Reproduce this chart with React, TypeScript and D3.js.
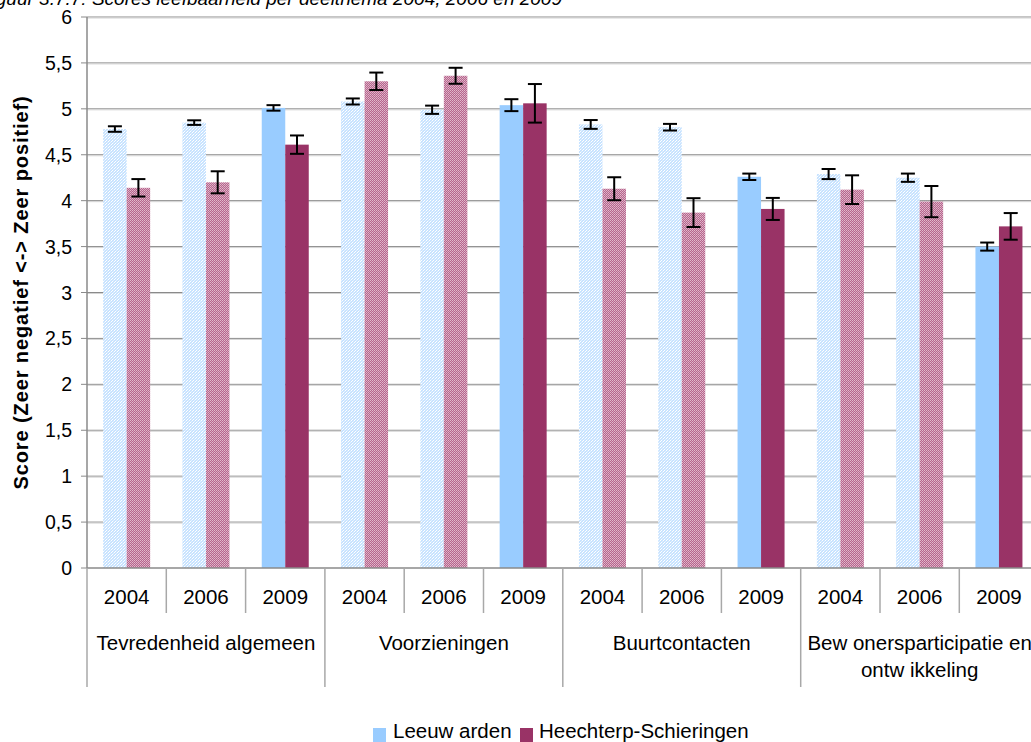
import React from "react";
import * as d3 from "d3";

const groups = ["Tevredenheid algemeen", "Voorzieningen", "Buurtcontacten", "Bew onersparticipatie en|ontw ikkeling"];
const years = ["2004", "2006", "2009"];
const seriesNames = ["Leeuw arden", "Heechterp-Schieringen"];
const leeuwarden = [4.78, 4.85, 5.01, 5.08, 4.99, 5.04, 4.83, 4.80, 4.26, 4.29, 4.25, 3.50];
const leeuwardenErr = [0.03, 0.025, 0.03, 0.033, 0.045, 0.065, 0.048, 0.036, 0.035, 0.055, 0.045, 0.044];
const heechterp = [4.14, 4.20, 4.61, 5.30, 5.36, 5.06, 4.13, 3.87, 3.91, 4.12, 3.99, 3.72];
const heechterpErr = [0.095, 0.12, 0.10, 0.095, 0.087, 0.21, 0.125, 0.157, 0.12, 0.156, 0.17, 0.145];
const yTicks = [0, 0.5, 1, 1.5, 2, 2.5, 3, 3.5, 4, 4.5, 5, 5.5, 6];
const title = "Figuur 3.7.7: Scores leefbaarheid per deelthema 2004, 2006 en 2009";
const yTitle = "Score (Zeer negatief <-> Zeer positief)";

const W = 1031, H = 742;
const left = 87, top = 17, bottom = 568;
const catW = 79.3;
const FONT = "'Liberation Sans', Arial, sans-serif";

export default function App() {
  const cats = groups.flatMap((g, gi) => years.map((y) => `${gi}-${y}`));
  const x = d3.scaleBand().domain(cats).range([left, left + catW * cats.length]).padding(0);
  const inner = d3.scaleBand().domain(["L", "H"]).range([(catW - 47) / 2, (catW + 47) / 2]).padding(0);
  const y = d3.scaleLinear().domain([0, 6]).range([bottom, top]);
  const fmt = (v: number) => String(v).replace(".", ",");
  const series = [
    { key: "L", vals: leeuwarden, errs: leeuwardenErr, solid: "#99CCFF", pat: "url(#patL)" },
    { key: "H", vals: heechterp, errs: heechterpErr, solid: "#993366", pat: "url(#patH)" },
  ];
  const right = left + catW * cats.length;
  return (
    <svg width={W} height={H} style={{ position: "absolute", left: 0, top: 0, background: "#fff" }} fontFamily={FONT}>
      <defs>
        <pattern id="patL" width="3" height="3" patternUnits="userSpaceOnUse">
          <rect width="3" height="3" fill="#c8e3ff" />
          <rect x="0" y="0" width="1" height="1" fill="#ffffff" />
          <rect x="2" y="1" width="1" height="1" fill="#e6f2ff" />
          <rect x="1" y="2" width="1" height="1" fill="#ffffff" />
        </pattern>
        <pattern id="patH" width="2" height="2" patternUnits="userSpaceOnUse">
          <rect width="2" height="2" fill="#b5668d" />
          <rect x="0" y="0" width="1" height="1" fill="#e3b8cc" />
          <rect x="1" y="1" width="1" height="1" fill="#d9a5be" />
        </pattern>
      </defs>
      <rect width={W} height={H} fill="#fff" />
      <text x={562} y={5} textAnchor="end" fontStyle="italic" fontSize={19} fill="#000">{title}</text>
      {/* gridlines */}
      {yTicks.filter((t) => t > 0).map((t) => (
        <g key={t}>
          <line x1={left} x2={right} y1={y(t)} y2={y(t)} stroke="#8a8a8a" strokeWidth={1} />
          <line x1={left} x2={right} y1={y(t) + 1} y2={y(t) + 1} stroke="#d4d4d4" strokeWidth={1} />
        </g>
      ))}
      {/* bars */}
      {cats.map((c, i) => {
        const yr = years[i % 3];
        return series.map((s) => {
          const bx = (x(c) as number) + (inner(s.key) as number);
          const bw = inner.bandwidth();
          return (
            <rect key={c + s.key} x={bx} y={y(s.vals[i])} width={bw} height={bottom - y(s.vals[i])}
              fill={yr === "2009" ? s.solid : s.pat} />
          );
        });
      })}
      {/* error bars */}
      {cats.map((c, i) =>
        series.map((s) => {
          const cx = (x(c) as number) + (inner(s.key) as number) + inner.bandwidth() / 2;
          const y1 = y(s.vals[i] + s.errs[i]);
          const y2 = y(s.vals[i] - s.errs[i]);
          return (
            <g key={"e" + c + s.key} stroke="#000" strokeWidth={2}>
              <line x1={cx} x2={cx} y1={y1} y2={y2} />
              <line x1={cx - 7} x2={cx + 7} y1={y1} y2={y1} />
              <line x1={cx - 7} x2={cx + 7} y1={y2} y2={y2} />
            </g>
          );
        })
      )}
      {/* y axis */}
      <line x1={left} x2={left} y1={top} y2={bottom} stroke="#8a8a8a" strokeWidth={1.5} />
      {yTicks.map((t) => (
        <g key={"t" + t}>
          <line x1={left - 6} x2={left} y1={y(t)} y2={y(t)} stroke="#8a8a8a" strokeWidth={1} />
          <text x={left - 15} y={y(t)} dy="0.36em" textAnchor="end" fontSize={19.5} fill="#000">{fmt(t)}</text>
        </g>
      ))}
      <text transform={`translate(28,${(top + bottom) / 2}) rotate(-90)`} textAnchor="middle" fontWeight="bold" fontSize={20} letterSpacing={0.9} fill="#000">{yTitle}</text>
      {/* x axis */}
      <line x1={left} x2={right} y1={bottom} y2={bottom} stroke="#8a8a8a" strokeWidth={1.5} />
      {cats.map((c, i) => {
        const xl = x(c) as number;
        const isGroupStart = i % 3 === 0;
        return (
          <g key={"x" + c}>
            <line x1={xl} x2={xl} y1={bottom} y2={isGroupStart ? 687 : 613} stroke="#a8a8a8" strokeWidth={1.5} />
            <text x={xl + catW / 2} y={604} textAnchor="middle" fontSize={20.5} fill="#000">{years[i % 3]}</text>
          </g>
        );
      })}
      <line x1={right} x2={right} y1={bottom} y2={687} stroke="#a8a8a8" strokeWidth={1.5} />
      {groups.map((g, gi) => {
        const cx = left + catW * (gi * 3 + 1.5);
        const lines = g.split("|");
        return (
          <text key={g} x={cx} y={650} textAnchor="middle" fontSize={20.5} fill="#000">
            {lines.map((l, li) => (
              <tspan key={li} x={cx} dy={li === 0 ? 0 : 27}>{l}</tspan>
            ))}
          </text>
        );
      })}
      {/* legend */}
      <rect x={373} y={728} width={13} height={14} fill="#99CCFF" />
      <text x={393} y={738} fontSize={20.5} fill="#000">{seriesNames[0]}</text>
      <rect x={520} y={728} width={13} height={14} fill="#993366" />
      <text x={539} y={738} fontSize={20.5} fill="#000">{seriesNames[1]}</text>
    </svg>
  );
}
